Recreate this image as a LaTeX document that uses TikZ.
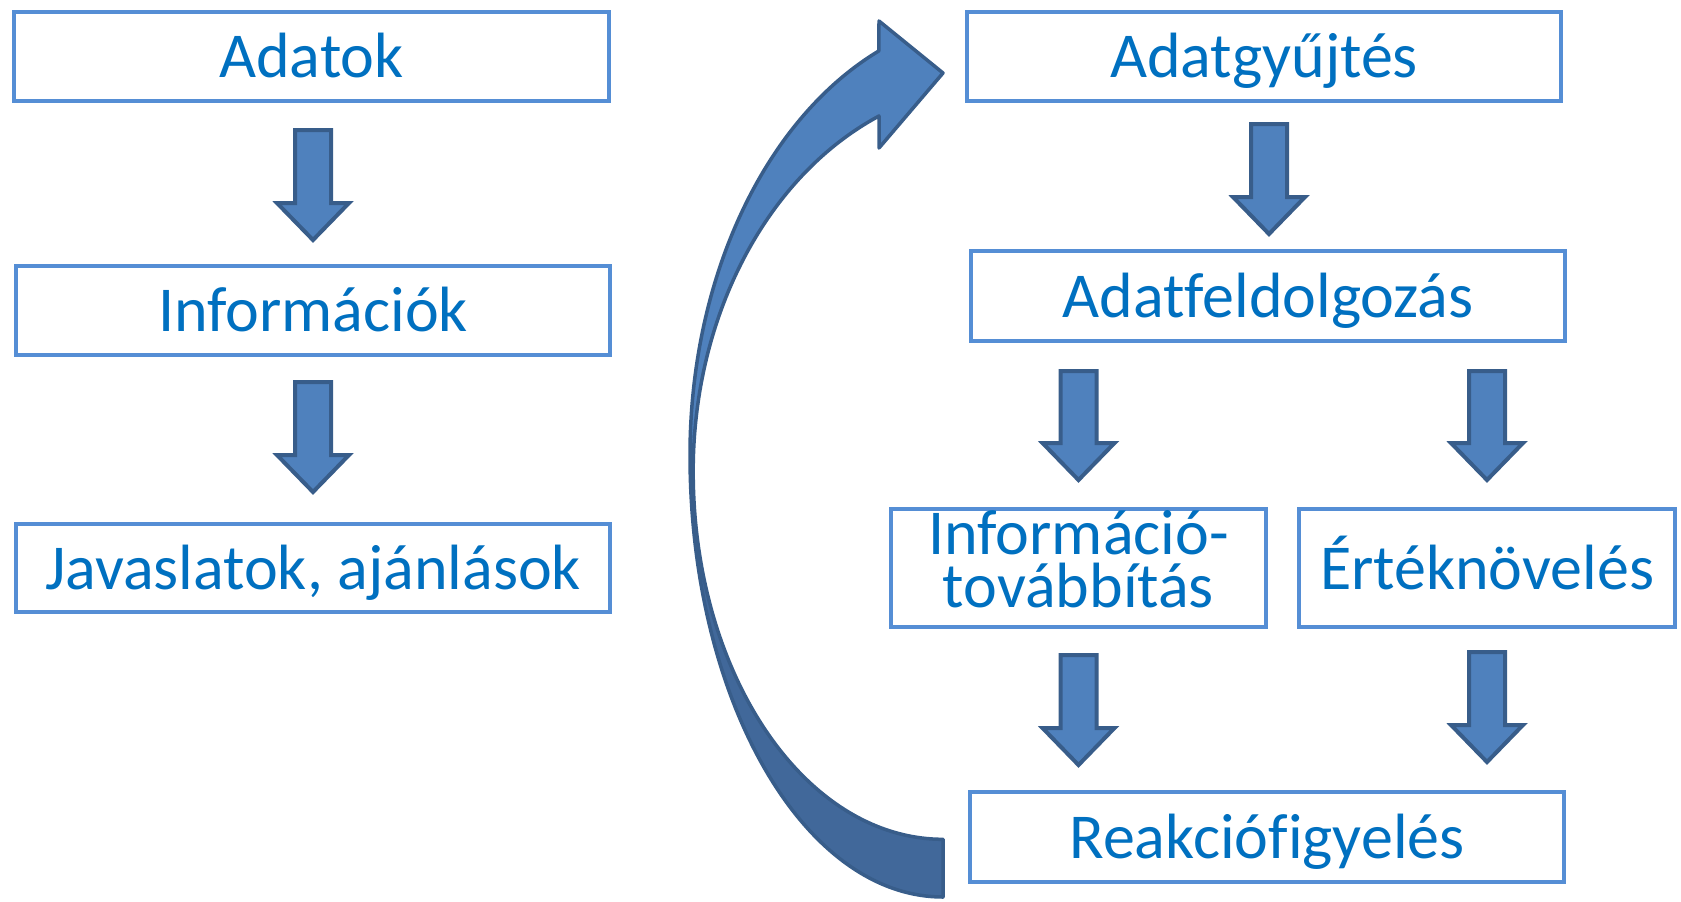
\documentclass[tikz,border=0pt]{standalone}
\usepackage{fontspec}
\setmainfont{Carlito}[Ligatures={NoCommon}]
\definecolor{boxblue}{HTML}{558ED5}
\definecolor{txtblue}{HTML}{0070C0}
\definecolor{arrfill}{HTML}{4F81BD}
\definecolor{arredge}{HTML}{385D8A}
\definecolor{arrdark}{HTML}{41689A}
\tikzset{
  box/.style={draw=boxblue, line width=4.5pt, fill=white, text=txtblue,
    font=\fontsize{64}{53}\selectfont, align=center, inner sep=0pt},
  oneline/.style={text height=42pt, text depth=0pt},
  blk/.style={fill=arrfill, draw=arredge, line width=4pt, line join=miter},
}
\newcommand\dnarrow[3]{% x, ytop, ybottom
  \draw[blk] (#1-18,#2) -- (#1+18,#2) -- (#1+18,#3-37) -- (#1+36,#3-37)
    -- (#1,#3) -- (#1-36,#3-37) -- (#1-18,#3-37) -- cycle;}
\begin{document}
\begin{tikzpicture}[x=1pt,y=-1pt]
\useasboundingbox (0,0) rectangle (1681,902);
% left column
\node[box, oneline, minimum width=595, minimum height=89] (adatok) at (311.5,56.5) {Adatok};
\node[box, oneline, minimum width=594, minimum height=89] (info) at (313,310.5) {Információk};
\node[box, oneline, minimum width=594, minimum height=88] (javas) at (313,568) {Javaslatok, ajánlások};
\dnarrow{313}{130}{240}
\dnarrow{313}{382}{492}
% right column
\node[box, oneline, minimum width=594, minimum height=89] (gyujt) at (1264,56.5) {Adatgyűjtés};
\node[box, oneline, minimum width=594, minimum height=90] (feld) at (1268,296) {Adatfeldolgozás};
\node[box, minimum width=375, minimum height=118] (tov) at (1078.5,568)
  {Információ-\\továbbítás\rule[-19pt]{0pt}{19pt}};
\node[box, oneline, minimum width=376, minimum height=118] (ertek) at (1487,568) {Értéknövelés};
\node[box, oneline, minimum width=594, minimum height=90] (reak) at (1267,837) {Reakciófigyelés};
\dnarrow{1269}{124}{234}
\dnarrow{1078.5}{371}{480}
\dnarrow{1487}{371}{480}
\dnarrow{1078.5}{655}{765}
\dnarrow{1487}{652}{762}
% curved arrow
\fill[arrdark] (943,897) arc[start angle=90,end angle=180,x radius=253,y radius=442]
  -- (693,471) arc[start angle=180,end angle=90,x radius=250,y radius=368] -- cycle;
\fill[arrfill] (690,455) arc[start angle=180,end angle=247,x radius=310,y radius=439]
  -- (879,21) -- (943,73) -- (879,148) -- (879,116)
  arc[start angle=247,end angle=180,x radius=305,y radius=386] -- cycle;
\draw[arredge, line width=3.5pt, line join=round]
  (943,897) arc[start angle=90,end angle=180,x radius=253,y radius=442]
  arc[start angle=180,end angle=247,x radius=310,y radius=439]
  -- (879,21) -- (943,73) -- (879,148) -- (879,116)
  arc[start angle=247,end angle=180,x radius=305,y radius=386]
  arc[start angle=180,end angle=90,x radius=250,y radius=368] -- cycle;
\end{tikzpicture}
\end{document}
